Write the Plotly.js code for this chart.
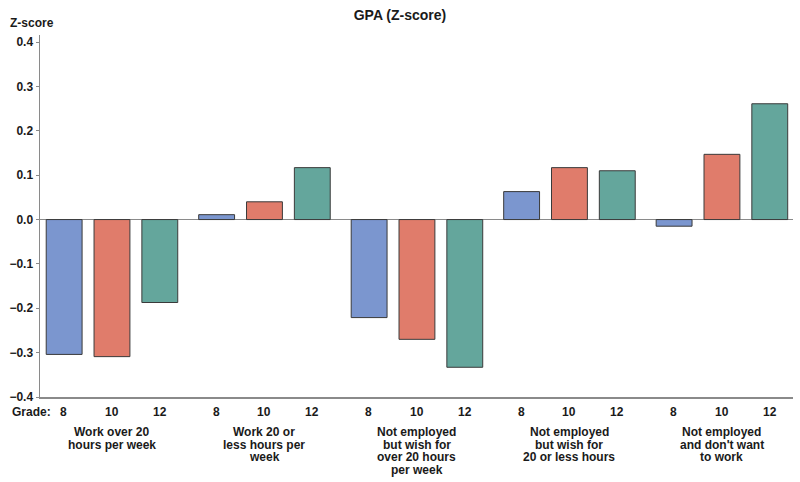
<!DOCTYPE html>
<html>
<head>
<meta charset="utf-8">
<script src="https://cdn.plot.ly/plotly-3.0.1.min.js"></script>
<style>html,body{margin:0;padding:0;background:#fff;}#chart{width:800px;height:482px;}</style>
</head>
<body>
<div id="chart"></div>
<script>
var categories = [
  "Work over 20|hours per week",
  "Work 20 or|less hours per|week",
  "Not employed|but wish for|over 20 hours|per week",
  "Not employed|but wish for|20 or less hours",
  "Not employed|and don't want|to work"
];
var grades = ["8", "10", "12"];
var grade8 = [-0.304, 0.011, -0.221, 0.063, -0.015];
var grade10 = [-0.309, 0.040, -0.270, 0.117, 0.147];
var grade12 = [-0.187, 0.117, -0.333, 0.110, 0.261];
var yTicks = [-0.4, -0.3, -0.2, -0.1, 0.0, 0.1, 0.2, 0.3, 0.4];

var colors = ["#7b96cf", "#e07c6b", "#64a69c"];
var series = [grade8, grade10, grade12];
var FONT = "Liberation Sans, Arial, sans-serif";
var txtFont = { family: FONT, size: 12, color: "#1a1a1a", weight: "bold" };

var traces = series.map(function (vals, i) {
  return {
    type: "bar",
    name: "Grade " + grades[i],
    x: categories,
    y: vals,
    marker: { color: colors[i], line: { color: "#3a3a3a", width: 1 } },
    hoverinfo: "y"
  };
});

var annotations = [];
var shifts = [-48, 0, 48];
categories.forEach(function (c) {
  grades.forEach(function (g, j) {
    annotations.push({
      x: c, xref: "x", y: 0, yref: "paper", yanchor: "middle", xanchor: "center",
      yshift: -15, xshift: shifts[j], text: g, showarrow: false, font: txtFont
    });
  });
  c.split("|").forEach(function (line, k) {
    annotations.push({
      x: c, xref: "x", y: 0, yref: "paper", yanchor: "middle", xanchor: "center",
      yshift: -35 - 12.5 * k, text: line, showarrow: false, font: txtFont
    });
  });
});
annotations.push({
  x: 0, xref: "paper", xanchor: "left", xshift: -30, y: 0, yref: "paper", yanchor: "middle", yshift: -15,
  text: "Grade:", showarrow: false, font: txtFont
});
annotations.push({
  x: 0, xref: "paper", xanchor: "center", xshift: -8, y: 1, yref: "paper", yanchor: "bottom", yshift: 3,
  text: "Z-score", showarrow: false, font: txtFont
});

var layout = {
  width: 800, height: 482,
  margin: { l: 40, r: 7, t: 35, b: 85 },
  paper_bgcolor: "#fff", plot_bgcolor: "#fff",
  showlegend: false,
  barmode: "group",
  bargap: 0.059,
  bargroupgap: 0.25,
  title: { text: "GPA (Z-score)", x: 0.5, xanchor: "center", y: 0.968, yanchor: "middle",
    font: { family: FONT, size: 14, color: "#1a1a1a", weight: "bold" } },
  xaxis: {
    type: "category",
    range: [-0.472, 4.466],
    showline: true, linecolor: "#8a8a8a", linewidth: 1.5,
    ticks: "", showgrid: false, zeroline: false,
    showticklabels: false
  },
  yaxis: {
    range: [-0.4, 0.416],
    tickvals: yTicks,
    tickformat: ".1f",
    ticks: "outside", ticklen: 3, tickcolor: "#8a8a8a",
    showline: true, linecolor: "#8a8a8a", linewidth: 1.5,
    showgrid: false,
    zeroline: true, zerolinecolor: "#8a8a8a", zerolinewidth: 1.5,
    tickfont: txtFont
  },
  annotations: annotations
};

Plotly.newPlot("chart", traces, layout, { displayModeBar: false, staticPlot: true });
</script>
</body>
</html>
